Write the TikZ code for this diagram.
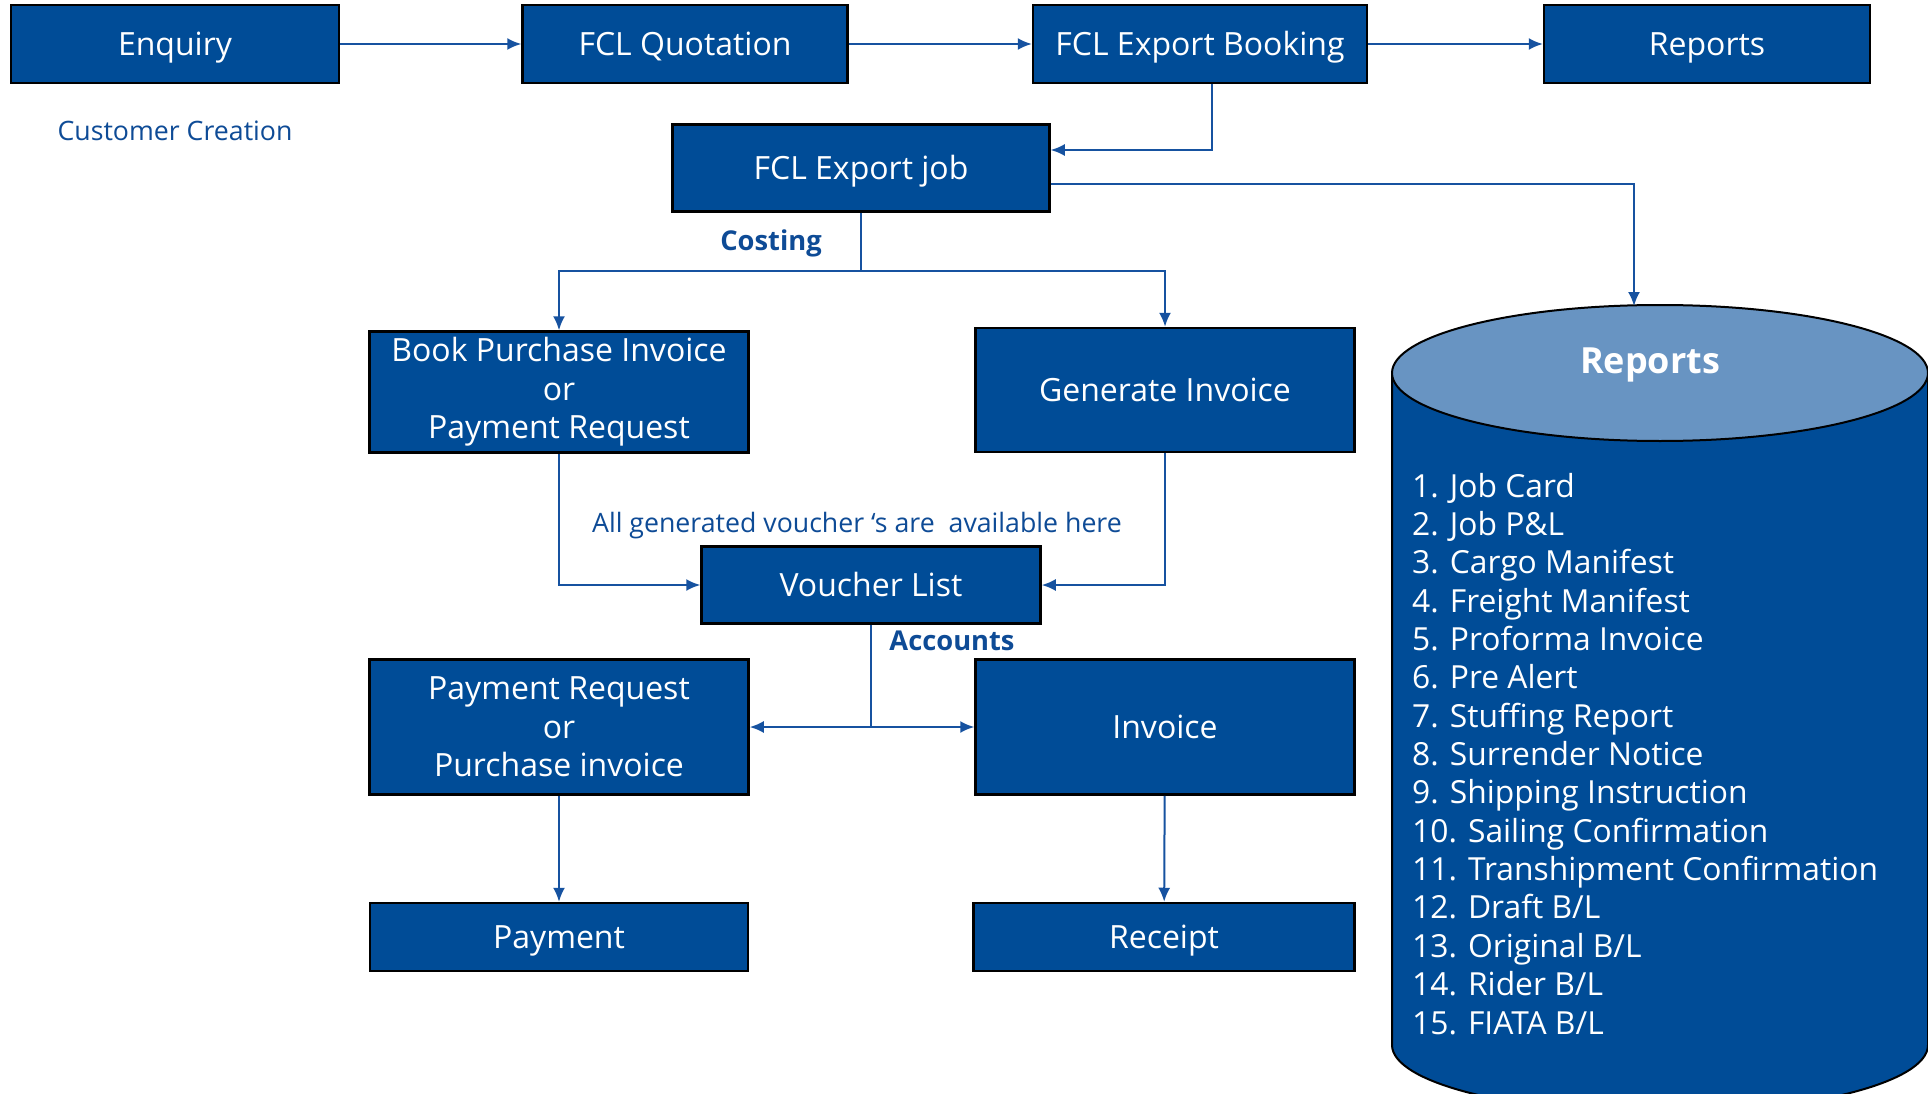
\documentclass[tikz,border=0pt]{standalone}
\usepackage{fontspec}
\setmainfont{Open Sans}
\usetikzlibrary{arrows.meta}

\definecolor{boxblue}{RGB}{0,76,151}
\definecolor{topblue}{RGB}{104,148,194}
\definecolor{lineblue}{RGB}{22,82,160}
\definecolor{labelblue}{RGB}{14,75,150}

\tikzset{
  stagebox/.style={draw=black, line width=2.5pt, fill=boxblue, text=white,
    font=\fontsize{32}{38.5}\selectfont, align=center, inner sep=0pt},
  onebox/.style={stagebox, text height=23pt, text depth=0pt},
  flow/.style={draw=lineblue, line width=2pt, -{Latex[length=14pt,width=12pt]}},
  feed/.style={draw=lineblue, line width=1.5pt},
  note/.style={text=labelblue, font=\fontsize{26.7}{30}\selectfont},
  boldnote/.style={text=labelblue, font=\fontsize{27.3}{30}\selectfont\bfseries},
  listtext/.style={text=white, font=\fontsize{31.8}{38}\selectfont, inner sep=0pt},
}

\begin{document}
\begin{tikzpicture}[x=1pt, y=-1pt]
    \path[use as bounding box, fill=white] (0,0) rectangle (1928,1094);
    \clip (0,0) rectangle (1928,1094);

    % reports store
    \draw[line width=2pt, fill=boxblue] (1392,373) -- (1392,1045)
        arc[start angle=180, end angle=0, x radius=268, y radius=68] -- (1928,373);
    \draw[line width=2pt, fill=topblue] (1660,373) ellipse [x radius=268, y radius=68];
    \coordinate (cyltop) at (1634,306);
    \node[text=white, font=\fontsize{36}{40}\selectfont\bfseries] (storetitle) at (1650,365) {Reports};
    \foreach \entry [count=\i] in {Job Card, Job P\&L, Cargo Manifest, Freight Manifest,
        Proforma Invoice, Pre Alert, Stuffing Report, Surrender Notice,
        Shipping Instruction, Sailing Confirmation, Transhipment Confirmation,
        Draft B/L, Original B/L, Rider B/L, FIATA B/L}
        \node[listtext, anchor=base west] (rep\i) at (1412,{497+38.36*(\i-1)}) {\i. \entry};

    % top row
    \node[onebox, minimum width=328pt, minimum height=78pt] (enquiry) at (175,44) {Enquiry};
    \node[onebox, minimum width=325pt, minimum height=78pt] (quotation) at (685,44) {FCL Quotation};
    \node[onebox, minimum width=334pt, minimum height=78pt] (booking) at (1200,44) {FCL Export Booking};
    \node[onebox, minimum width=326pt, minimum height=78pt] (reports) at (1707,44) {Reports};
    \node[note] (customer) at (175,131) {Customer Creation};

    \node[onebox, minimum width=377pt, minimum height=87pt] (job) at (861,168) {FCL Export job};
    \node[boldnote] (costing) at (771,243) {Costing};

    % costing
    \node[stagebox, minimum width=379pt, minimum height=121pt] (purchase) at (559,392)
        {Book Purchase Invoice\\or\\Payment Request};
    \node[onebox, minimum width=379pt, minimum height=124pt] (generate) at (1165,390) {Generate Invoice};
    \node[note] (allnote) at (857,526) {All generated voucher `s are~ available here};
    \node[onebox, minimum width=339pt, minimum height=77pt] (voucher) at (871,585) {Voucher List};
    \node[boldnote] (accounts) at (952,641) {Accounts};

    % accounts
    \node[stagebox, minimum width=379pt, minimum height=135pt] (prequest) at (559,727)
        {Payment Request\\or\\Purchase invoice};
    \node[onebox, minimum width=379pt, minimum height=135pt] (invoice) at (1165,727) {Invoice};
    \node[onebox, minimum width=378pt, minimum height=68pt] (payment) at (559,937) {Payment};
    \node[onebox, minimum width=381pt, minimum height=68pt] (receipt) at (1164,937) {Receipt};

    % connectors
    \draw[flow] (enquiry.east) -- (quotation.west);
    \draw[flow] (quotation.east) -- (booking.west);
    \draw[flow] (booking.east) -- (reports.west);
    \draw[flow] ([xshift=12pt]booking.south) |- ([yshift=18pt]job.east);
    \draw[flow] ([yshift=-16pt]job.east) -| (cyltop);

    \coordinate (split) at (861,271);
    \draw[feed] (job.south) -- (split);
    \draw[flow] (split) -| (purchase.north);
    \draw[flow] (split) -| (generate.north);

    \draw[flow] (purchase.south) |- (voucher.west);
    \draw[flow] (generate.south) |- (voucher.east);

    \coordinate (acc) at (voucher.south |- prequest.east);
    \draw[feed] (voucher.south) -- (acc);
    \draw[flow] (acc) -- (prequest.east);
    \draw[flow] (acc) -- (invoice.west);

    \draw[flow] (prequest) -- (payment);
    \draw[flow] (invoice) -- (receipt);
\end{tikzpicture}
\end{document}
